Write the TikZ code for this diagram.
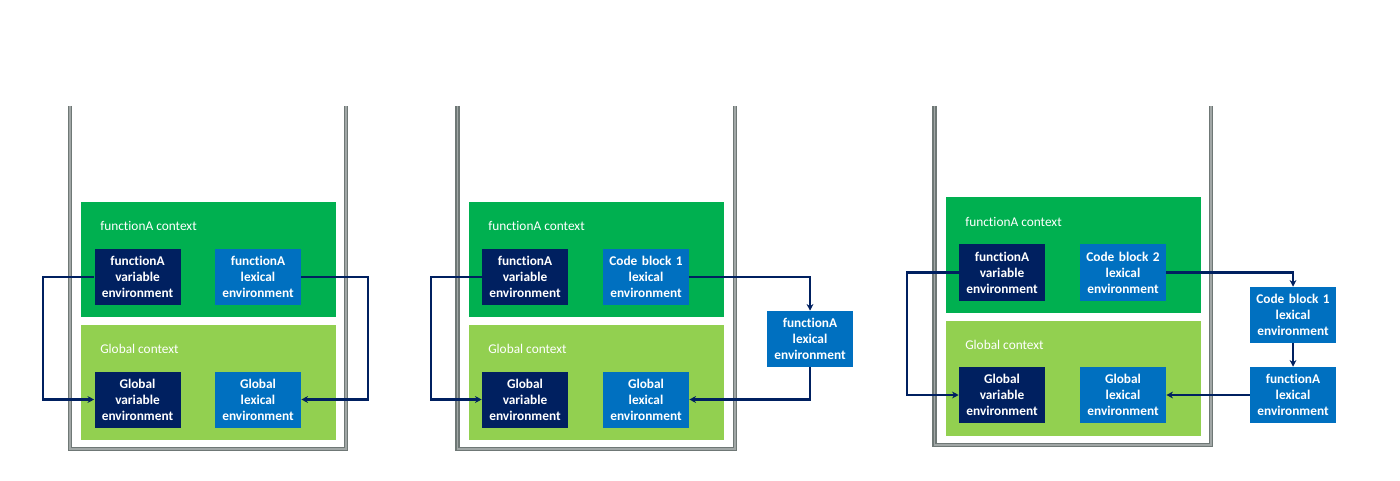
\documentclass[tikz,border=0pt]{standalone}
\usepackage{fontspec}
\setmainfont{Carlito}[Ligatures=NoCommon, RawFeature={-clig;-dlig}]
\usetikzlibrary{arrows.meta}
\definecolor{ctxgreen}{HTML}{00B050}
\definecolor{globgreen}{HTML}{92D050}
\definecolor{varnavy}{HTML}{002060}
\definecolor{lexblue}{HTML}{0070C0}
\definecolor{wallgray}{HTML}{6F7876}
\tikzset{
  env/.style={text=white, font=\fontsize{10}{12}\selectfont\bfseries, align=center,
    text width=64.5pt, minimum height=42pt, inner sep=0pt},
  varenv/.style={env, fill=varnavy},
  lexenv/.style={env, fill=lexblue},
  ctx/.style={minimum width=191.25pt, minimum height=86.25pt, inner sep=0pt},
  ctxlabel/.style={text=white, font=\fontsize{10}{12}\selectfont, anchor=west, inner sep=0pt},
  stack/.style={draw=wallgray, line width=1.2pt, double=wallgray!65, double distance=0.9pt},
  link/.style={draw=varnavy, line width=1.7pt, -{Stealth[length=5pt,width=5pt]}},
}

\begin{document}
\begin{tikzpicture}[x=0.75pt,y=-0.75pt]
\useasboundingbox (0,0) rectangle (1400,481);

% the three stacks
\draw[stack] (70,106) -- (70,449) -- (346,449) -- (346,106);
\draw[stack] (457.5,106) -- (457.5,449) -- (735,449) -- (735,106);
\draw[stack] (934.5,106) -- (934.5,445) -- (1211,445) -- (1211,106);

% first stack
\node[ctx, fill=ctxgreen] (fctx1) at (208.5,259.5) {};
\node[ctx, fill=globgreen] (gctx1) at (208.5,382) {};
\node[ctxlabel] (fname1) at (100,226) {functionA context};
\node[ctxlabel] (gname1) at (100,349) {Global context};
\node[varenv] (fvar1) at (137.5,277) {functionA\\variable\\environment};
\node[lexenv] (flex1) at (258,277) {functionA\\lexical\\environment};
\node[varenv] (gvar1) at (137.5,399.5) {Global\\variable\\environment};
\node[lexenv] (glex1) at (258,399.5) {Global\\lexical\\environment};

% second stack
\node[ctx, fill=ctxgreen] (fctx2) at (596.5,259.5) {};
\node[ctx, fill=globgreen] (gctx2) at (596.5,382) {};
\node[ctxlabel] (fname2) at (488,226) {functionA context};
\node[ctxlabel] (gname2) at (488,349) {Global context};
\node[varenv] (fvar2) at (525,277) {functionA\\variable\\environment};
\node[lexenv] (cbone2) at (646,277) {Code block 1\\lexical\\environment};
\node[varenv] (gvar2) at (525,399.5) {Global\\variable\\environment};
\node[lexenv] (glex2) at (646,399.5) {Global\\lexical\\environment};
\node[lexenv] (flex2) at (810,339) {functionA\\lexical\\environment};

% third stack
\node[ctx, fill=ctxgreen] (fctx3) at (1073.5,255) {};
\node[ctx, fill=globgreen] (gctx3) at (1073.5,378) {};
\node[ctxlabel] (fname3) at (965,222) {functionA context};
\node[ctxlabel] (gname3) at (965,345) {Global context};
\node[varenv] (fvar3) at (1002,272.5) {functionA\\variable\\environment};
\node[lexenv] (cbtwo3) at (1123,272.5) {Code block 2\\lexical\\environment};
\node[varenv] (gvar3) at (1002,395) {Global\\variable\\environment};
\node[lexenv] (glex3) at (1123,395) {Global\\lexical\\environment};
\node[lexenv] (cbone3) at (1293,315) {Code block 1\\lexical\\environment};
\node[lexenv] (flex3) at (1293,395) {functionA\\lexical\\environment};

% outer references
\draw[link] (fvar1.west) -- ++(-51,0) |- (gvar1.west);
\draw[link] (flex1.east) -- ++(67,0) |- (glex1.east);

\draw[link] (fvar2.west) -- ++(-51,0) |- (gvar2.west);
\draw[link] (cbone2.east) -| (flex2.north);
\draw[link] (flex2.south) |- (glex2.east);

\draw[link] (fvar3.west) -- ++(-52,0) |- (gvar3.west);
\draw[link] (cbtwo3.east) -| (cbone3.north);
\draw[link] (cbone3.south) -- (flex3.north);
\draw[link] (flex3.west) -- (glex3.east);

\end{tikzpicture}
\end{document}
